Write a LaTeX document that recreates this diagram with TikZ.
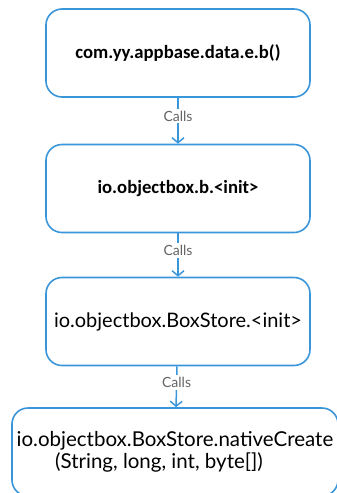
\documentclass[tikz,border=0pt]{standalone}
\usepackage{fontspec}
\setmainfont{Lato}
\newfontfamily\calibri{Carlito}
\usetikzlibrary{arrows.meta}
\definecolor{boxblue}{RGB}{58,150,218}
\definecolor{labelgray}{RGB}{100,100,100}

\begin{document}
\begin{tikzpicture}[x=1pt,y=-1pt,>={Straight Barb[length=5pt,width=12pt]}]
  \tikzstyle{call}=[draw=boxblue,line width=1.6pt,rounded corners=16pt,
    minimum width=264pt,minimum height=88pt,inner sep=0pt,align=center]
  \tikzstyle{every edge}=[draw=boxblue,line width=1.5pt,->]
  \tikzstyle{calls}=[fill=white,text=labelgray,font=\fontsize{14}{16}\selectfont,
    inner sep=2pt]
  \useasboundingbox (0,0) rectangle (337,493);

  \node[call,font=\calibri\bfseries\fontsize{18.7}{22}\selectfont] (A) at (178,53)
    {com.yy.appbase.data.e.b()};
  \node[call,font=\calibri\bfseries\fontsize{18.7}{22}\selectfont] (B) at (178,188.5)
    {io.objectbox.b.<init>};
  \node[call,font=\fontsize{20}{22}\selectfont] (C) at (178,321.5)
    {io.objectbox.BoxStore.<init>};
  \node[call,minimum width=326pt,font=\fontsize{20.5}{22}\selectfont] (D) at (175,452)
    {io.objectbox.BoxStore.nativeCreate\\(String, long, int, byte[])\hspace*{32pt}};

  \path (A) edge node[calls,pos=.4] {Calls} (B)
        (B) edge node[calls,pos=.4] {Calls} (C)
        (C) edge node[calls,pos=.4] {Calls} (D);
\end{tikzpicture}
\end{document}
